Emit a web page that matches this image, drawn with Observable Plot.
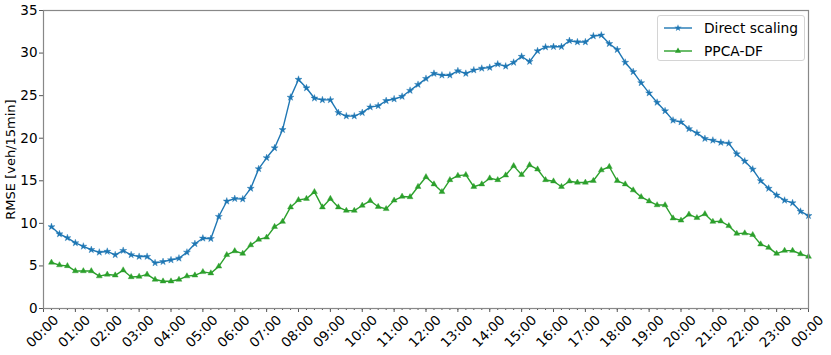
<!DOCTYPE html>
<html><head><meta charset="utf-8">
<script src="https://cdn.jsdelivr.net/npm/d3@7"></script>
<script src="https://cdn.jsdelivr.net/npm/@observablehq/plot@0.6"></script>
<style>
html,body{margin:0;padding:0;background:#fff;}
#wrap{position:relative;width:831px;height:355px;font-family:"DejaVu Sans",sans-serif;}
#legend{position:absolute;left:657px;top:15px;width:148px;height:46px;box-sizing:border-box;border:1px solid #d4d4d4;border-radius:3px;background:rgba(255,255,255,0.85);font-size:13.8px;color:#000;}
.row{position:absolute;left:5px;height:16px;display:flex;align-items:center;}
.row span{margin-left:11px;white-space:nowrap;}
</style>
</head><body>
<div id="wrap"><div id="chart"></div><div id="legend"></div></div>
<script>
const seriesNames = ["Direct scaling", "PPCA-DF"];
const seriesColors = ["#1f77b4", "#2ca02c"];
const seriesSymbols = ["star", "triangle"];
const directScaling = [9.6,8.75,8.3,7.7,7.3,6.9,6.6,6.7,6.3,6.8,6.3,6.1,6.1,5.35,5.5,5.7,5.9,6.6,7.6,8.25,8.2,10.8,12.6,12.9,12.85,14.1,16.4,17.7,18.85,21.0,24.8,26.9,25.9,24.7,24.5,24.5,23.0,22.6,22.6,23.0,23.65,23.8,24.4,24.6,24.9,25.6,26.3,27.0,27.6,27.4,27.4,27.9,27.6,28.0,28.2,28.3,28.7,28.45,28.9,29.6,29.0,30.25,30.7,30.75,30.75,31.45,31.3,31.3,32.0,32.1,31.1,30.4,28.9,27.8,26.5,25.3,24.2,23.2,22.1,21.9,21.1,20.6,19.95,19.75,19.5,19.4,18.15,17.3,16.35,15.0,14.1,13.3,12.7,12.4,11.4,10.9];
const ppcaDF = [5.4,5.1,5.0,4.4,4.4,4.4,3.8,4.0,3.9,4.5,3.7,3.75,4.0,3.4,3.2,3.2,3.4,3.8,3.9,4.3,4.15,4.95,6.3,6.75,6.45,7.45,8.1,8.35,9.6,10.2,11.9,12.75,12.9,13.7,11.9,12.9,11.9,11.5,11.5,12.1,12.65,11.95,11.7,12.7,13.15,13.1,14.3,15.45,14.6,13.7,15.1,15.6,15.7,14.3,14.6,15.3,15.1,15.65,16.75,15.7,16.85,16.35,15.1,14.95,14.3,14.95,14.8,14.8,15.0,16.25,16.65,15.0,14.6,13.9,13.1,12.6,12.15,12.15,10.6,10.35,11.05,10.65,11.1,10.2,10.25,9.7,8.8,8.85,8.65,7.55,7.15,6.45,6.8,6.8,6.4,6.1];
// time of each sample, in hours (every 15 minutes, 00:15 .. 24:00)
const hours = directScaling.map((_, i) => (i + 1) / 4);
const hourTicks = d3.range(0, 25);
const quarterTicks = d3.range(0, 96 + 1).map(i => i / 4);
const yTicks = d3.range(0, 36, 5);
const yLabel = "RMSE [veh/15min]";
const fmtHour = h => String(h % 24).padStart(2, "0") + ":00";

const data = [];
[directScaling, ppcaDF].forEach((vals, k) => {
  vals.forEach((v, i) => data.push({t: hours[i], v, s: seriesNames[k]}));
});

const color = {domain: seriesNames, range: seriesColors};
const chart = Plot.plot({
  width: 831, height: 355,
  marginLeft: 43, marginRight: 23, marginTop: 10, marginBottom: 47,
  style: {fontFamily: "DejaVu Sans, sans-serif", fontSize: "13.5px", background: "#fff", color: "#000"},
  x: {domain: [0, 24]},
  y: {domain: [0, 35]},
  color,
  symbol: {domain: seriesNames, range: seriesSymbols},
  marks: [
    Plot.axisX({ticks: quarterTicks, tickSize: 2, tickFormat: () => "", label: null, stroke: "#555"}),
    Plot.axisX({ticks: hourTicks, tickSize: 4, tickFormat: () => "", label: null, stroke: "#555"}),
    Plot.text(hourTicks, {x: d => d, text: fmtHour, frameAnchor: "bottom", rotate: -45, textAnchor: "middle", lineAnchor: "middle", dy: 23, dx: -1, fontSize: 13.5}),
    Plot.axisY({ticks: yTicks, tickSize: 4, tickPadding: 2, label: null, stroke: "#555", fontSize: 13.5}),
    Plot.text([yLabel], {text: d => d, frameAnchor: "left", rotate: -90, dx: -33, textAnchor: "middle", lineAnchor: "middle", fontSize: 13}),
    Plot.line(data, {x: "t", y: "v", z: "s", stroke: "s", strokeWidth: 1.4}),
    Plot.dot(data, {x: "t", y: "v", fill: "s", stroke: "s", strokeWidth: 0.4, symbol: "s", r: 2.2}),
    Plot.frame({stroke: "#888", strokeWidth: 1.2})
  ]
});
document.getElementById("chart").appendChild(chart);

// legend
const legend = d3.select("#legend");
seriesNames.forEach((name, k) => {
  const row = legend.append("div").attr("class", "row").style("top", (k === 0 ? 4 : 27) + "px");
  const svg = row.append("svg").attr("width", 30).attr("height", 12);
  svg.append("line").attr("x1", 1).attr("x2", 29).attr("y1", 6).attr("y2", 6)
    .attr("stroke", seriesColors[k]).attr("stroke-width", 1.4);
  svg.append("path").attr("transform", "translate(15,6)")
    .attr("d", d3.symbol(k === 0 ? d3.symbolStar : d3.symbolTriangle, 16)())
    .attr("fill", seriesColors[k]);
  row.append("span").text(name);
});
</script>
</body></html>
